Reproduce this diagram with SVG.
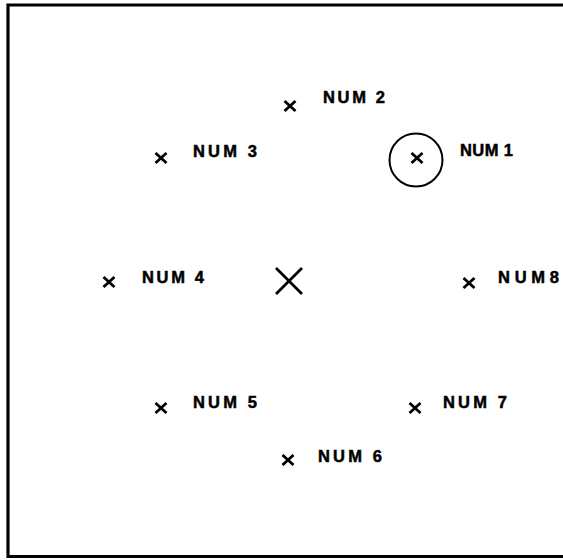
<svg xmlns="http://www.w3.org/2000/svg" width="563" height="560" viewBox="0 0 563 560">
<style>
.lbl{font-family:"Liberation Sans",Arial,sans-serif;font-weight:bold;font-size:16.5px;fill:#000;stroke:#000;stroke-width:0.5}
.mk{stroke:#000;stroke-width:2.8;fill:none;stroke-linecap:butt}
.frame{stroke:#000;stroke-width:3.2;fill:none}
</style>
<defs>
<path id="x" class="mk" d="M-5.5,-5 L5.5,5 M-5.5,5 L5.5,-5"/>
</defs>
<rect width="563" height="560" fill="#fff"/>
<path class="frame" d="M565,5 H8 V556.5 H565"/>
<g id="num1">
<circle cx="416" cy="160" r="26.5" fill="none" stroke="#000" stroke-width="2"/>
<use href="#x" x="417" y="158"/>
<text class="lbl" x="460" y="156" textLength="53" lengthAdjust="spacing">NUM 1</text>
</g>
<g id="num2">
<use href="#x" x="290" y="106"/>
<text class="lbl" x="323" y="103" textLength="62" lengthAdjust="spacing">NUM 2</text>
</g>
<g id="num3">
<use href="#x" x="161" y="158"/>
<text class="lbl" x="193" y="157" textLength="64" lengthAdjust="spacing">NUM 3</text>
</g>
<g id="num4">
<use href="#x" x="109" y="282"/>
<text class="lbl" x="142" y="283" textLength="62" lengthAdjust="spacing">NUM 4</text>
</g>
<g id="center">
<path class="mk" stroke-width="2.4" d="M276,268 L302,294 M276,294 L302,268"/>
</g>
<g id="num8">
<use href="#x" x="469" y="283"/>
<text class="lbl" x="498" y="283" textLength="61" lengthAdjust="spacing">NUM8</text>
</g>
<g id="num5">
<use href="#x" x="161" y="408"/>
<text class="lbl" x="193" y="408" textLength="64" lengthAdjust="spacing">NUM 5</text>
</g>
<g id="num7">
<use href="#x" x="415" y="408"/>
<text class="lbl" x="443" y="408" textLength="64" lengthAdjust="spacing">NUM 7</text>
</g>
<g id="num6">
<use href="#x" x="288" y="460"/>
<text class="lbl" x="318" y="462" textLength="64" lengthAdjust="spacing">NUM 6</text>
</g>
<g id="connectors"></g>
</svg>
